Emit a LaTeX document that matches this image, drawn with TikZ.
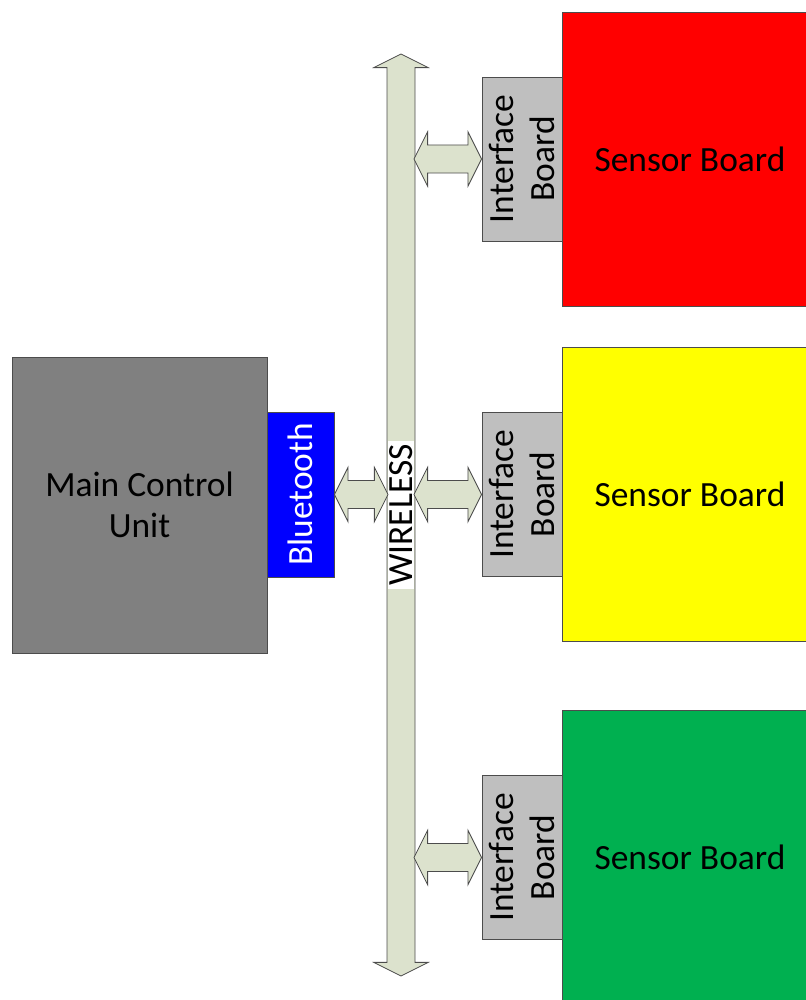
\documentclass[tikz,border=0pt]{standalone}
\usepackage{fontspec}
\setmainfont{Carlito}
\usepackage{tikz}
\usetikzlibrary{positioning,calc}
\definecolor{busfill}{RGB}{220,226,205}
\definecolor{sensorred}{RGB}{255,0,0}
\definecolor{sensoryellow}{RGB}{255,255,0}
\definecolor{sensorgreen}{RGB}{0,176,80}
\definecolor{btblue}{RGB}{0,0,255}
\newcommand{\hl}{0.34cm}
\newcommand{\hw}{0.68cm}
\newcommand{\sw}{0.35cm}
\newcommand{\dblarrow}[2]{%
  \draw[blockarrow] let \p1=(#1), \p2=(#2) in
    (\x1,\y2) -- (\x1+\hl,\y2+\hw) -- (\x1+\hl,\y2+\sw) -- (\x2-\hl,\y2+\sw) -- (\x2-\hl,\y2+\hw)
    -- (\x2,\y2) -- (\x2-\hl,\y2-\hw) -- (\x2-\hl,\y2-\sw) -- (\x1+\hl,\y2-\sw) -- (\x1+\hl,\y2-\hw) -- cycle;}

\begin{document}
\begin{tikzpicture}[x=0.025cm, y=-0.025cm,
  lbl/.style={font=\fontsize{25.2}{29.5}\selectfont},
  box/.style={draw=black!70, line width=0.6pt, align=center, inner sep=0pt, lbl},
  blockarrow/.style={draw=black!70, line width=0.6pt, fill=busfill, line join=miter}]
\useasboundingbox (0,0) rectangle (806,1000);
% main unit and radio
\node[box, fill=black!50, minimum width={255*0.025cm}, minimum height={296*0.025cm}] (mcu) at (139.5,505) {Main Control\\Unit};
\node[box, fill=btblue, minimum width={67*0.025cm}, minimum height={165*0.025cm}] (bt) at (300.5,494.5) {};
\node[lbl, text=white, rotate=90] at (bt) {Bluetooth};
% sensor boards
\node[box, fill=sensorred, minimum width={256*0.025cm}, minimum height={294*0.025cm}] (sb1) at (690,159) {Sensor Board};
\node[box, fill=sensoryellow, minimum width={256*0.025cm}, minimum height={294*0.025cm}] (sb2) at (690,494.5) {Sensor Board};
\node[box, fill=sensorgreen, minimum width={256*0.025cm}, minimum height={294*0.025cm}] (sb3) at (690,857) {Sensor Board};
% interface boards
\foreach \i/\yy in {1/159, 2/494.5, 3/857.5} {
  \node[box, fill=black!25, minimum width={80*0.025cm}, minimum height={164*0.025cm}] (ib\i) at (522,\yy) {};
  \node[lbl, align=center, rotate=90] at (ib\i) {Interface\\Board};
}
% wireless bus
\coordinate (bustop) at (401,54);
\coordinate (busbot) at (401,976);
\coordinate (busW) at (388,0);
\coordinate (busE) at (414,0);
\draw[blockarrow] let \p1=(bustop), \p2=(busbot) in
  (\x1,\y1) -- (\x1+\hw,\y1-\hl) -- (\x1+\sw,\y1-\hl) -- (\x1+\sw,\y2+\hl) -- (\x1+\hw,\y2+\hl)
  -- (\x1,\y2) -- (\x1-\hw,\y2+\hl) -- (\x1-\sw,\y2+\hl) -- (\x1-\sw,\y1-\hl) -- (\x1-\hw,\y1-\hl) -- cycle;
\node[lbl, fill=white, rotate=90, inner xsep=2pt, inner ysep=1pt] (wl) at (401,515) {WIRELESS};
% links
\dblarrow{bt.east}{busW |- bt.east}
\dblarrow{busE |- ib1.west}{ib1.west}
\dblarrow{busE |- ib2.west}{ib2.west}
\dblarrow{busE |- ib3.west}{ib3.west}
\end{tikzpicture}
\end{document}
